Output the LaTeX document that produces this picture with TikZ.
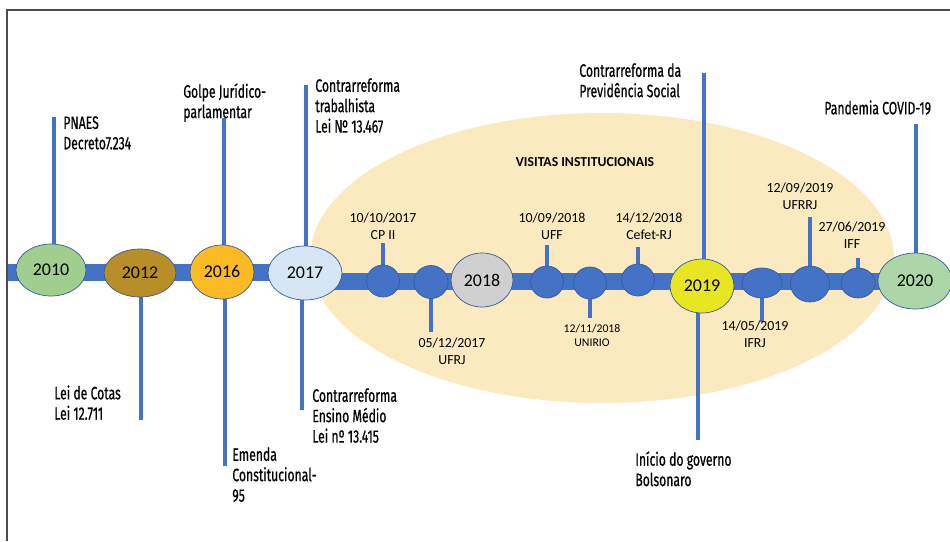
\documentclass[tikz,border=0pt]{standalone}
\usepackage{fontspec}
\setmainfont{Carlito}
\newfontfamily\condfont[FakeStretch=0.68,FakeBold=0.6]{Fira Sans}
\usetikzlibrary{shapes.geometric}

\definecolor{barblue}{RGB}{68,114,196}
\definecolor{dotedge}{RGB}{52,92,165}
\definecolor{halo}{RGB}{251,234,192}
\definecolor{c2010}{RGB}{160,206,143}
\definecolor{c2012}{RGB}{184,142,40}
\definecolor{c2016}{RGB}{251,186,35}
\definecolor{c2017}{RGB}{214,230,245}
\definecolor{c2018}{RGB}{208,208,208}
\definecolor{c2019}{RGB}{232,230,34}
\definecolor{c2020}{RGB}{172,214,168}

\pgfdeclarelayer{back}
\pgfsetlayers{back,main}

\begin{document}
\begin{tikzpicture}[
    x=0.02cm, y=-0.02cm,
    year/.style={ellipse, draw=barblue!80!black, line width=0.4pt, inner sep=0pt,
                 font=\fontsize{10.2}{12}\selectfont},
    visit/.style={ellipse, draw=dotedge, line width=0.4pt, fill=barblue, inner sep=0pt},
    event/.style={anchor=north west, align=left, inner sep=0pt,
                  font=\condfont\fontsize{10.2}{11.6}\selectfont},
    date/.style={align=center, inner sep=0pt, font=\fontsize{7.9}{9.6}\selectfont},
    bar/.style={barblue, line width=0.34cm},
    stem/.style={barblue, line width=1.9pt}
]
\useasboundingbox (0,0) rectangle (950,541);
\draw[line width=1pt, black!70] (7,541) -- (7,10) -- (950,10);

% years
\node[year, fill=c2010, minimum width=1.40cm, minimum height=1.04cm] (y2010) at (51,270) {2010};
\node[year, fill=c2012, minimum width=1.44cm, minimum height=0.96cm] (y2012) at (140,273) {2012};
\node[year, fill=c2016, minimum width=1.28cm, minimum height=1.08cm] (y2016) at (222,272) {2016};
\node[year, fill=c2017, minimum width=1.48cm, minimum height=1.08cm] (y2017) at (305,273) {2017};
\node[year, fill=c2018, minimum width=1.24cm, minimum height=1.08cm] (y2018) at (482,280) {2018};
\node[year, fill=c2019, minimum width=1.28cm, minimum height=1.08cm] (y2019) at (702,286) {2019};
\node[year, fill=c2020, minimum width=1.48cm, minimum height=1.12cm] (y2020) at (915,281) {2020};

% visits
\node[visit, minimum width=0.66cm, minimum height=0.64cm] (v1) at (383,281) {};
\node[visit, minimum width=0.68cm, minimum height=0.66cm] (v2) at (431,282) {};
\node[visit, minimum width=0.66cm, minimum height=0.64cm] (v3) at (547,282) {};
\node[visit, minimum width=0.66cm, minimum height=0.64cm] (v4) at (590,283) {};
\node[visit, minimum width=0.66cm, minimum height=0.64cm] (v5) at (638,280) {};
\node[visit, minimum width=0.80cm, minimum height=0.60cm] (v6) at (762,283) {};
\node[visit, minimum width=0.78cm, minimum height=0.72cm] (v7) at (810,284) {};
\node[visit, minimum width=0.68cm, minimum height=0.60cm] (v8) at (858,283) {};

\node[font=\bfseries\fontsize{7.8}{9}\selectfont] (visitas) at (585,162) {VISITAS INSTITUCIONAIS};

% visit labels
\node[date] (cp2) at (383,226) {10/10/2017\\CP II};
\node[date] (ufrj) at (452,351) {05/12/2017\\UFRJ};
\node[date] (uff) at (552,226) {10/09/2018\\UFF};
\node[date, font=\fontsize{6.7}{8}\selectfont] (unirio) at (592,335) {12/11/2018\\UNIRIO};
\node[date] (cefet) at (649,226) {14/12/2018\\Cefet-RJ};
\node[date] (ifrj) at (755,334) {14/05/2019\\IFRJ};
\node[date] (ufrrj) at (800,196) {12/09/2019\\UFRRJ};
\node[date] (iff) at (852,235) {27/06/2019\\IFF};

% events
\node[event] (pnaes) at (63,116) {PNAES\\Decreto7.234};
\node[event] (golpe) at (183,83) {Golpe Jurídico-\\parlamentar};
\node[event] (cotas) at (54,385) {Lei de Cotas\\Lei 12.711};
\node[event] (emenda) at (232,447) {Emenda\\Constitucional-\\95};
\node[event] (trab) at (315,78) {Contrarreforma\\trabalhista\\Lei № 13.467};
\node[event] (ensino) at (312,388) {Contrarreforma\\Ensino Médio\\Lei nº 13.415};
\node[event] (prev) at (579,63) {Contrarreforma da\\Previdência Social};
\node[event] (bolso) at (635,451) {Início do governo\\Bolsonaro};
\node[event] (covid) at (824,100) {Pandemia COVID-19};

% stem ends
\coordinate (t2010) at (54,117);
\coordinate (b2012) at (141,420);
\coordinate (t2016) at (224,118);
\coordinate (b2016) at (225,466);
\coordinate (t2017) at (306,85);
\coordinate (b2017) at (302,410);
\coordinate (t2019) at (704,73);
\coordinate (b2019) at (698,440);
\coordinate (t2020) at (916,124);
\coordinate (e1) at (383,243);
\coordinate (e2) at (431,332);
\coordinate (e3) at (547,245);
\coordinate (e4) at (590,318);
\coordinate (e5) at (638,247);
\coordinate (e6) at (762,322);
\coordinate (e7) at (810,217);
\coordinate (e8) at (858,258);
\coordinate (barA) at (7,272);
\coordinate (barB) at (305,272);
\coordinate (barC) at (305,281);
\coordinate (barD) at (915,281);

\begin{pgfonlayer}{back}
\fill[halo] (602,258) ellipse [x radius=5.84cm, y radius=2.9cm];
\draw[bar] (barA) -- (barB);
\draw[bar] (barC) -- (barD);
\draw[stem] (t2010) -- (t2010 |- y2010);
\draw[stem] (b2012) -- (b2012 |- y2012);
\draw[stem] (t2016) -- (t2016 |- y2016);
\draw[stem] (b2016) -- (b2016 |- y2016);
\draw[stem] (t2017) -- (t2017 |- y2017);
\draw[stem] (b2017) -- (b2017 |- y2017);
\draw[stem] (t2019) -- (t2019 |- y2019);
\draw[stem] (b2019) -- (b2019 |- y2019);
\draw[stem] (t2020) -- (t2020 |- y2020);
\draw[stem] (e1) -- (e1 |- v1);
\draw[stem] (e2) -- (e2 |- v2);
\draw[stem] (e3) -- (e3 |- v3);
\draw[stem] (e4) -- (e4 |- v4);
\draw[stem] (e5) -- (e5 |- v5);
\draw[stem] (e6) -- (e6 |- v6);
\draw[stem] (e7) -- (e7 |- v7);
\draw[stem] (e8) -- (e8 |- v8);
\end{pgfonlayer}
\end{tikzpicture}
\end{document}
